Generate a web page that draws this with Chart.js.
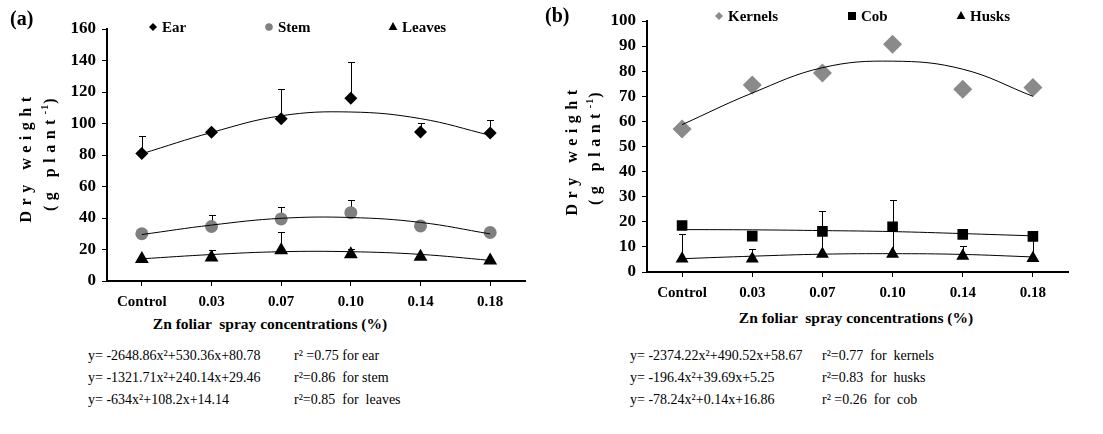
<!DOCTYPE html>
<html>
<head>
<meta charset="utf-8">
<script src="https://cdn.jsdelivr.net/npm/chart.js@4/dist/chart.umd.min.js"></script>
<style>
  html, body { margin: 0; padding: 0; background: #fff; }
  #wrap { position: relative; width: 1103px; height: 434px; overflow: hidden; font-family: "Liberation Serif", Tinos, "Times New Roman", "Liberation Sans", sans-serif; color: #000; }
  canvas { position: absolute; top: 0; }
  .txt { position: absolute; white-space: pre; line-height: 1; }
  .panel { font-weight: bold; font-size: 20px; }
  .xtitle { font-weight: bold; font-size: 15.5px; transform: translateX(-50%); }
  .ytitle { font-weight: bold; font-size: 16px; letter-spacing: 5.5px; transform: translate(-50%, -50%) rotate(-90deg); }
  .ytitle sup { font-size: 10px; letter-spacing: 1px; }
  .eq { font-size: 14px; }
</style>
</head>
<body>
<div id="wrap">
  <canvas id="chartA" width="540" height="312" style="left:0px"></canvas>
  <canvas id="chartB" width="563" height="300" style="left:540px"></canvas>

  <div class="txt panel" style="left:10px; top:8px">(a)</div>
  <div class="txt panel" style="left:545px; top:5px">(b)</div>

  <div class="txt ytitle" style="left:26px; top:157px">Dry weight</div>
  <div class="txt ytitle" style="left:49px; top:152px">(g plant<sup>-1</sup>)</div>
  <div class="txt ytitle" style="left:572px; top:150px">Dry weight</div>
  <div class="txt ytitle" style="left:594px; top:146px">(g plant<sup>-1</sup>)</div>

  <div class="txt xtitle" style="left:270px; top:316px">Zn foliar  spray concentrations (%)</div>
  <div class="txt xtitle" style="left:856px; top:310px">Zn foliar  spray concentrations (%)</div>
  <div id="eqs"></div>
</div>

<script>
const categories = ['Control', '0.03', '0.07', '0.10', '0.14', '0.18'];

// panel (a): ear, stem, leaves
const earValues = [81, 94.5, 103, 116, 94.6, 94];
const earErr = [11, 0, 19, 23, 5.5, 8.5];
const earTrend = [80.8, 94.3, 104.9, 107.3, 103.1, 92.5];
const stemValues = [30, 34.6, 39.4, 43.4, 35, 30.8];
const stemErr = [0, 7.4, 7.4, 7.8, 0, 0];
const stemTrend = [29.5, 35.5, 39.8, 40.3, 37.2, 29.9];
const leavesValues = [14, 15, 19.5, 17, 15.4, 13];
const leavesErr = [0, 5, 11.5, 3.5, 0, 0];
const leavesTrend = [14.1, 16.8, 18.6, 18.6, 16.9, 13.1];

// panel (b): kernels, cob, husks
const kernelsValues = [57, 74.5, 79.3, 90.7, 72.8, 73.5];
const kernelsTrend = [58.7, 71.3, 81.4, 84.0, 80.8, 70.0];
const cobValues = [18.5, 14.3, 16.2, 18, 15, 14.2];
const cobErr = [0, 0, 8, 10.5, 0, 0];
const cobTrend = [16.9, 16.8, 16.5, 16.1, 15.3, 14.4];
const husksValues = [5.3, 5.3, 7.2, 7.2, 6.4, 5.5];
const husksErr = [10, 4, 9, 10, 4, 8.5];
const husksTrend = [5.3, 6.3, 7.1, 7.3, 7.0, 6.0];

const eqA = ['y= -2648.86x²+530.36x+80.78', 'y= -1321.71x²+240.14x+29.46', 'y= -634x²+108.2x+14.14'];
const r2A = ['r² =0.75 for ear', 'r²=0.86  for stem', 'r²=0.85  for  leaves'];
const eqB = ['y= -2374.22x²+490.52x+58.67', 'y= -196.4x²+39.69x+5.25', 'y= -78.24x²+0.14x+16.86'];
const r2B = ['r²=0.77  for  kernels', 'r²=0.83  for  husks', 'r² =0.26  for  cob'];

const SERIF = '"Liberation Serif", Tinos, "Times New Roman", "Liberation Sans", sans-serif';

// equations under the charts
const eqBox = document.getElementById('eqs');
function addEq(lines, left, top) {
  lines.forEach((t, i) => {
    const d = document.createElement('div');
    d.className = 'txt eq';
    d.style.left = left + 'px';
    d.style.top = (top + i * 22) + 'px';
    d.textContent = t;
    eqBox.appendChild(d);
  });
}
addEq(eqA, 88, 349);
addEq(r2A, 294, 349);
addEq(eqB, 630, 349);
addEq(r2B, 822, 349);

// upward error bars, drawn under the markers
const errorBars = {
  id: 'errorBars',
  beforeDatasetsDraw(chart) {
    const { ctx, scales: { x, y } } = chart;
    ctx.save();
    ctx.strokeStyle = '#000';
    ctx.lineWidth = 1;
    chart.data.datasets.forEach(ds => {
      if (!ds.errTop) return;
      ds.data.forEach((v, i) => {
        const e = ds.errTop[i];
        if (!e) return;
        const px = Math.round(x.getPixelForValue(i)) + 0.5;
        const y0 = y.getPixelForValue(v);
        const y1 = Math.round(y.getPixelForValue(v + e)) + 0.5;
        ctx.beginPath();
        ctx.moveTo(px, y0);
        ctx.lineTo(px, y1);
        ctx.moveTo(px - 3.5, y1);
        ctx.lineTo(px + 3.5, y1);
        ctx.stroke();
      });
    });
    ctx.restore();
  }
};

function marker(ctx, style, r, x, y) {
  ctx.beginPath();
  if (style === 'circle') {
    ctx.arc(x, y, r, 0, Math.PI * 2);
  } else if (style === 'rectRot') {
    ctx.moveTo(x, y - r); ctx.lineTo(x + r, y); ctx.lineTo(x, y + r); ctx.lineTo(x - r, y);
  } else if (style === 'triangle') {
    ctx.moveTo(x, y - r); ctx.lineTo(x + r * 0.87, y + r * 0.6); ctx.lineTo(x - r * 0.87, y + r * 0.6);
  } else {
    ctx.rect(x - r, y - r, 2 * r, 2 * r);
  }
  ctx.closePath();
  ctx.fill();
}

// legend inside the top of the plot
const markerLegend = {
  id: 'markerLegend',
  afterDraw(chart, args, opts) {
    const { ctx, chartArea } = chart;
    ctx.save();
    ctx.font = 'bold 15px ' + SERIF;
    ctx.textBaseline = 'middle';
    opts.items.forEach(it => {
      const mx = chartArea.left + it.dx;
      ctx.fillStyle = it.color;
      marker(ctx, it.style, it.r, mx, opts.y);
      ctx.fillStyle = '#000';
      ctx.fillText(it.label, mx + 9, opts.y + 1);
    });
    ctx.restore();
  }
};

function pointSet(label, data, err, style, radius, color) {
  return {
    label, data, errTop: err,
    showLine: false,
    pointStyle: style,
    pointRadius: radius,
    pointHoverRadius: radius,
    pointBackgroundColor: color,
    pointBorderWidth: 0,
    borderColor: color,
    order: 1
  };
}

function trendSet(data) {
  return {
    data,
    borderColor: '#000',
    borderWidth: 1,
    pointRadius: 0,
    tension: 0.4,
    fill: false,
    order: 0
  };
}

function buildChart(id, datasets, yMax, yStep, pad, xHeight, legend) {
  return new Chart(document.getElementById(id), {
    type: 'line',
    data: { labels: categories, datasets },
    options: {
      responsive: false,
      animation: false,
      layout: { padding: pad },
      plugins: {
        legend: { display: false },
        tooltip: { enabled: false },
        markerLegend: legend
      },
      scales: {
        x: {
          type: 'category',
          offset: true,
          afterFit: s => { s.height = xHeight; },
          grid: { drawOnChartArea: false, tickLength: 5, color: '#000' },
          border: { color: '#000', width: 2 },
          ticks: { color: '#000', padding: 7, font: { family: SERIF, size: 15, weight: 'bold' } }
        },
        y: {
          min: 0,
          max: yMax,
          afterFit: s => { s.width = 107; },
          grid: { drawOnChartArea: false, tickLength: 5, color: '#000' },
          border: { color: '#000', width: 2 },
          ticks: { stepSize: yStep, color: '#000', padding: 6, font: { family: SERIF, size: 17, weight: 'bold' } }
        }
      }
    },
    plugins: [errorBars, markerLegend]
  });
}

buildChart('chartA', [
  trendSet(earTrend),
  trendSet(stemTrend),
  trendSet(leavesTrend),
  pointSet('Ear', earValues, earErr, 'rectRot', 6.5, '#000'),
  pointSet('Stem', stemValues, stemErr, 'circle', 6.5, '#808080'),
  pointSet('Leaves', leavesValues, leavesErr, 'triangle', 8, '#000')
], 160, 20, { top: 29, right: 15, left: 0, bottom: 0 }, 31, {
  y: 27,
  items: [
    { label: 'Ear', style: 'rectRot', r: 4, color: '#000', dx: 46 },
    { label: 'Stem', style: 'circle', r: 3.8, color: '#808080', dx: 162 },
    { label: 'Leaves', style: 'triangle', r: 5, color: '#000', dx: 286 }
  ]
});

buildChart('chartB', [
  trendSet(kernelsTrend),
  trendSet(cobTrend),
  trendSet(husksTrend),
  pointSet('Kernels', kernelsValues, null, 'rectRot', 9.5, '#8a8a8a'),
  pointSet('Cob', cobValues, cobErr, 'rect', 7.5, '#000'),
  pointSet('Husks', husksValues, husksErr, 'triangle', 7.5, '#000')
], 100, 10, { top: 21, right: 35, left: 0, bottom: 0 }, 28, {
  y: 16,
  items: [
    { label: 'Kernels', style: 'rectRot', r: 4, color: '#8a8a8a', dx: 72 },
    { label: 'Cob', style: 'rect', r: 4, color: '#000', dx: 205 },
    { label: 'Husks', style: 'triangle', r: 5, color: '#000', dx: 314 }
  ]
});
</script>
</body>
</html>
